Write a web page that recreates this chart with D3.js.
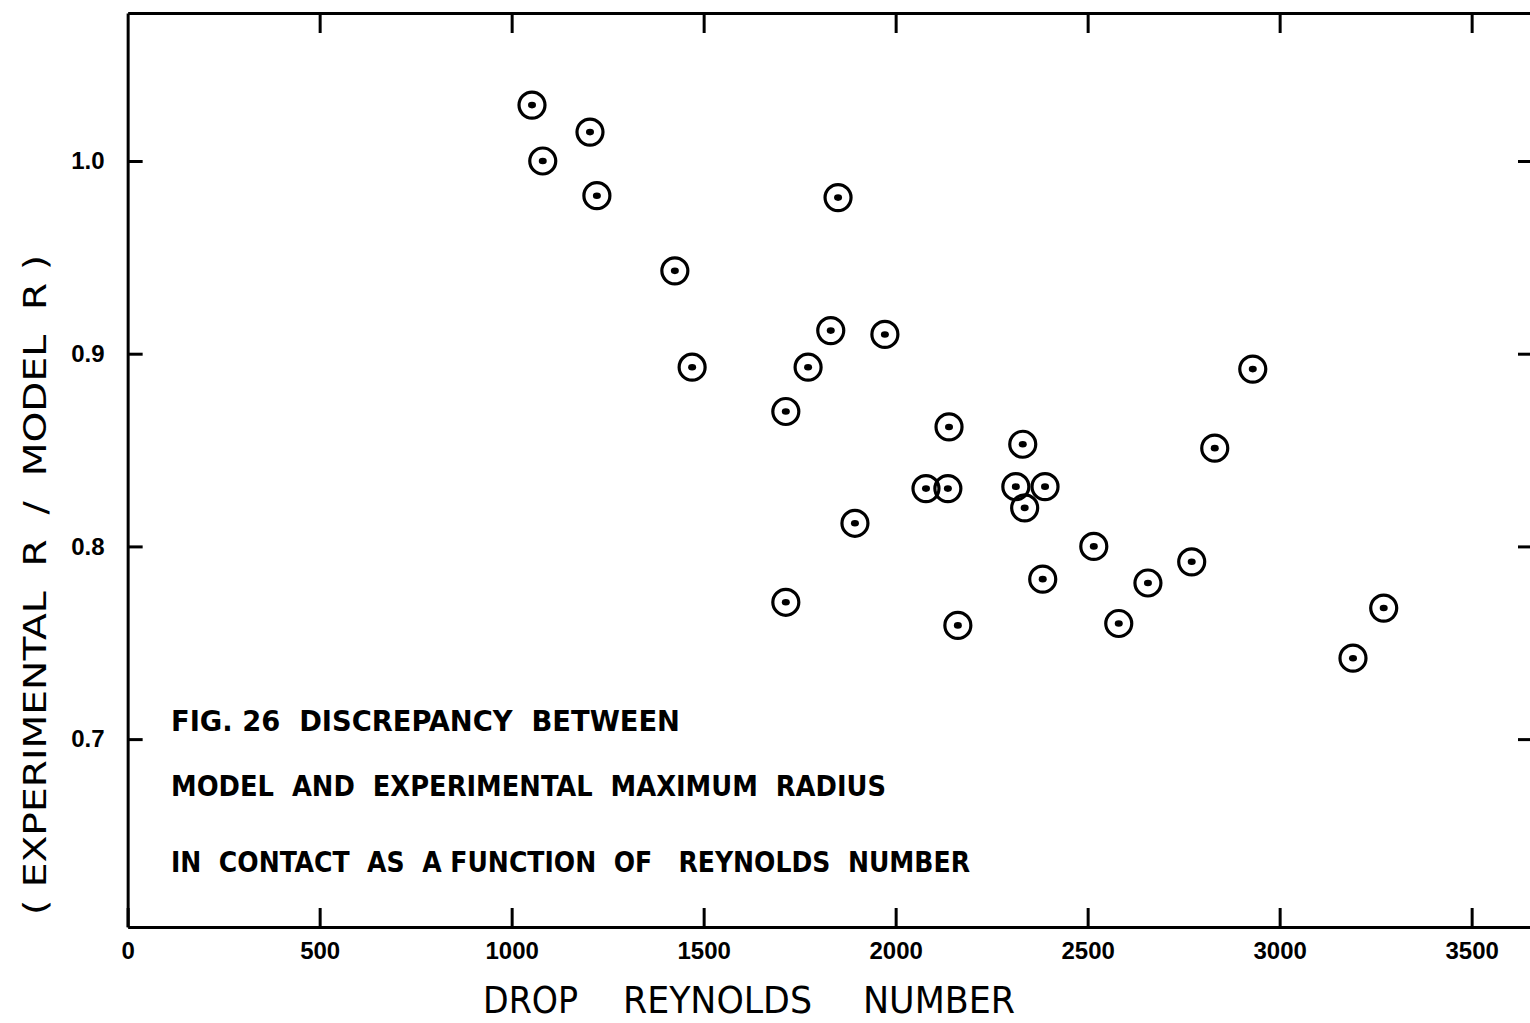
<!DOCTYPE html>
<html>
<head>
<meta charset="utf-8">
<script src="https://cdn.jsdelivr.net/npm/d3@7/dist/d3.min.js"></script>
<style>
  html, body { margin: 0; padding: 0; background: #fff; }
  svg { display: block; }
</style>
</head>
<body>
<svg id="chart" width="1530" height="1023"></svg>
<script>
// Drop Reynolds number vs (experimental R / model R).
const reynolds = [1053, 1204, 1081, 1222, 1850, 1425, 1470, 1831, 1972, 1772,
                  1714, 2139, 2331, 2079, 2136, 2313, 2389, 2336, 1894, 2516,
                  2383, 2657, 2771, 1714, 2162, 2581, 2930, 2831, 3271, 3191];
const radiusRatio = [1.029, 1.015, 1.000, 0.982, 0.981, 0.943, 0.893, 0.912, 0.910, 0.893,
                     0.870, 0.862, 0.853, 0.830, 0.830, 0.831, 0.831, 0.820, 0.812, 0.800,
                     0.783, 0.781, 0.792, 0.771, 0.759, 0.760, 0.892, 0.851, 0.768, 0.742];
const xTicks = [0, 500, 1000, 1500, 2000, 2500, 3000, 3500];
const yTicks = [0.7, 0.8, 0.9, 1.0];
const captionLines = [
  "FIG. 26  DISCREPANCY  BETWEEN",
  "MODEL  AND  EXPERIMENTAL  MAXIMUM  RADIUS",
  "IN  CONTACT  AS  A FUNCTION  OF   REYNOLDS  NUMBER"
];
const xTitleWords = ["DROP", "REYNOLDS", "NUMBER"];
const yTitle = "( EXPERIMENTAL  R  /  MODEL  R )";

const svg = d3.select("#chart");
const ink = "#000";
const font = "'DejaVu Sans Condensed', 'Liberation Sans', sans-serif";

// Plot frame; the right edge of the scan is cut off, so the right spine sits just past the window.
const x = d3.scaleLinear().domain([0, 3665]).range([127.65, 1535]);
const y = d3.scaleLinear().domain([0.6025, 1.0768]).range([927, 13]);

function styleAxis(g) {
  g.select(".domain").attr("stroke", ink).attr("stroke-width", 3);
  g.selectAll(".tick line").attr("stroke", ink).attr("stroke-width", 3);
  g.selectAll(".tick text")
    .attr("fill", ink)
    .attr("font-family", "'Liberation Sans', Arial, sans-serif")
    .attr("font-weight", "bold")
    .attr("font-size", 24);
}

svg.append("g")
  .attr("transform", `translate(0,${y.range()[0]})`)
  .call(d3.axisBottom(x).tickValues(xTicks).tickFormat(d3.format("d"))
    .tickSizeInner(-19).tickSizeOuter(0).tickPadding(15))
  .call(styleAxis);

svg.append("g")
  .attr("transform", `translate(0,${y.range()[1]})`)
  .call(d3.axisTop(x).tickValues(xTicks.filter((d) => d > 0)).tickFormat("")
    .tickSizeInner(-20).tickSizeOuter(0))
  .call(styleAxis);

svg.append("g")
  .attr("transform", `translate(${x.range()[0]},0)`)
  .call(d3.axisLeft(y).tickValues(yTicks).tickFormat(d3.format(".1f"))
    .tickSizeInner(-15).tickSizeOuter(0).tickPadding(23))
  .call(styleAxis);

svg.append("g")
  .attr("transform", `translate(${x.range()[1]},0)`)
  .call(d3.axisRight(y).tickValues(yTicks).tickFormat("")
    .tickSizeInner(-17).tickSizeOuter(0))
  .call(styleAxis);

// Markers: open circle with a dot in the middle.
const pts = reynolds.map((r, i) => ({ r, v: radiusRatio[i] }));
const mark = svg.append("g")
  .selectAll("g")
  .data(pts)
  .join("g")
  .attr("transform", (d) => `translate(${x(d.r)},${y(d.v)})`);
mark.append("circle")
  .attr("r", 13)
  .attr("fill", "none")
  .attr("stroke", ink)
  .attr("stroke-width", 3.2);
mark.append("ellipse")
  .attr("rx", 4)
  .attr("ry", 3.3)
  .attr("fill", ink);

// Caption block inside the plot.
const captionX = 171;
const captionY = [731, 796, 872];
const captionW = [509, 715, 799];
svg.append("g")
  .selectAll("text")
  .data(captionLines)
  .join("text")
  .attr("x", captionX)
  .attr("y", (d, i) => captionY[i])
  .attr("textLength", (d, i) => captionW[i])
  .attr("lengthAdjust", "spacingAndGlyphs")
  .attr("font-family", font)
  .attr("font-weight", "bold")
  .attr("font-size", 28)
  .attr("fill", ink)
  .attr("xml:space", "preserve")
  .text((d) => d);

// X axis title, three spaced words.
const wordX = [483, 623, 863];
const wordW = [95, 189, 152];
svg.append("g")
  .selectAll("text")
  .data(xTitleWords)
  .join("text")
  .attr("x", (d, i) => wordX[i])
  .attr("y", 1013)
  .attr("textLength", (d, i) => wordW[i])
  .attr("lengthAdjust", "spacingAndGlyphs")
  .attr("font-family", font)
  .attr("font-size", 37)
  .attr("fill", ink)
  .text((d) => d);

// Y axis title, rotated.
svg.append("text")
  .attr("transform", "translate(46,585) rotate(-90)")
  .attr("text-anchor", "middle")
  .attr("textLength", 660)
  .attr("lengthAdjust", "spacingAndGlyphs")
  .attr("font-family", font)
  .attr("font-size", 32)
  .attr("fill", ink)
  .attr("xml:space", "preserve")
  .text(yTitle);
</script>
</body>
</html>
